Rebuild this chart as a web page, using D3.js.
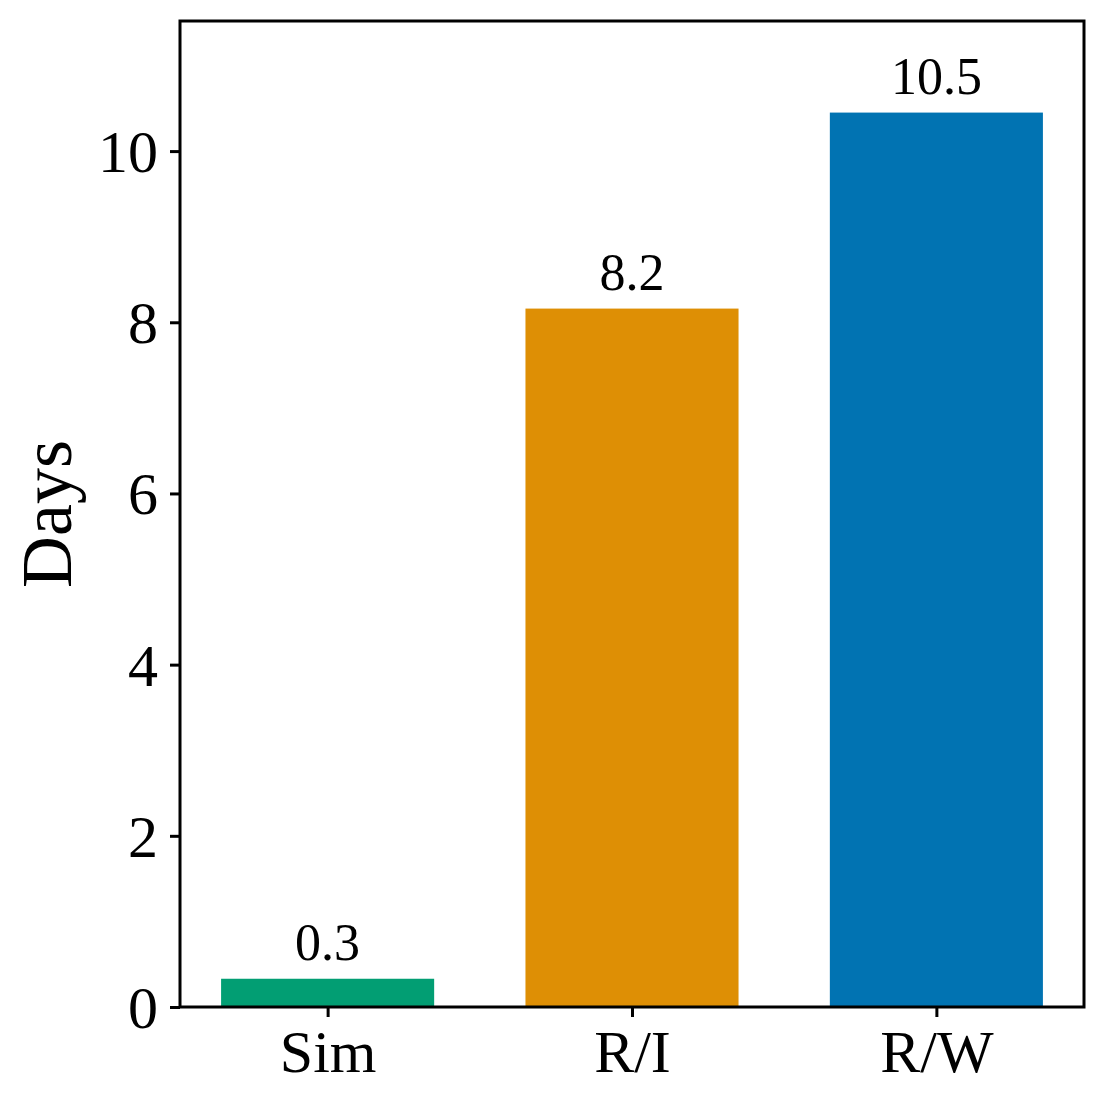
<!DOCTYPE html>
<html>
<head>
<meta charset="utf-8">
<script src="https://cdn.jsdelivr.net/npm/d3@7"></script>
<style>
  body { margin: 0; background: #fff; }
  svg text { font-family: "Times New Roman", Times, "Liberation Serif", Tinos, serif; }
</style>
</head>
<body>
<svg id="chart" width="1106" height="1106"></svg>
<script>
let categories = ["Sim", "R/I", "R/W"];
let values = [0.33, 8.16, 10.45];
let valueLabels = ["0.3", "8.2", "10.5"];
let colors = ["#029e73", "#de8f05", "#0173b2"];
let yTicks = [0, 2, 4, 6, 8, 10];

let width = 1106, height = 1106;
let margin = { left: 180, right: 22, top: 21, bottom: 99 };
let fontSize = { tick: 60, value: 52, label: 72 };

let svg = d3.select("#chart");

let plotW = width - margin.left - margin.right;
let plotH = height - margin.top - margin.bottom;

// index-based x like matplotlib: bars width 0.7, xlim with 5% margin
let barWidth = 0.7;
let scaleX = d3.scaleLinear()
    .domain([-0.485, categories.length - 1 + 0.485])
    .range([margin.left, margin.left + plotW]);
let scaleY = d3.scaleLinear()
    .domain([0, 11.52])
    .range([margin.top + plotH, margin.top]);

// bars
svg.selectAll(".bar").data(values).enter()
    .append("rect")
    .attr("class", "bar")
    .attr("x", (d, i) => scaleX(i - barWidth / 2))
    .attr("width", (d, i) => scaleX(i + barWidth / 2) - scaleX(i - barWidth / 2))
    .attr("y", d => scaleY(d))
    .attr("height", d => scaleY(0) - scaleY(d))
    .attr("fill", (d, i) => colors[i]);

// value labels
svg.selectAll(".value").data(values).enter()
    .append("text")
    .attr("class", "value")
    .attr("x", (d, i) => scaleX(i))
    .attr("y", d => scaleY(d) - 19)
    .attr("text-anchor", "middle")
    .style("font-size", fontSize.value + "px")
    .text((d, i) => valueLabels[i]);

// y axis
let yAxis = d3.axisLeft(scaleY).tickValues(yTicks).tickSize(10).tickPadding(12)
    .tickFormat(d3.format("d"));
let gy = svg.append("g")
    .attr("transform", "translate(" + margin.left + ",0)")
    .call(yAxis);
gy.attr("font-family", null);
gy.select(".domain").remove();
gy.selectAll(".tick line").attr("stroke", "#000").attr("stroke-width", 3);
gy.selectAll(".tick text")
    .attr("dy", "0.34em")
    .attr("fill", "#000")
    .style("font-size", fontSize.tick + "px");

// x axis
let xAxis = d3.axisBottom(scaleX).tickValues(categories.map((c, i) => i)).tickSize(10).tickPadding(12)
    .tickFormat(i => categories[i]);
let gx = svg.append("g")
    .attr("transform", "translate(0," + (margin.top + plotH) + ")")
    .call(xAxis);
gx.attr("font-family", null);
gx.select(".domain").remove();
gx.selectAll(".tick line").attr("stroke", "#000").attr("stroke-width", 3);
gx.selectAll(".tick text")
    .attr("dy", "0.71em")
    .attr("fill", "#000")
    .style("font-size", fontSize.tick + "px");

// frame
svg.append("rect")
    .attr("x", margin.left)
    .attr("y", margin.top)
    .attr("width", plotW)
    .attr("height", plotH)
    .attr("fill", "none")
    .attr("stroke", "#000")
    .attr("stroke-width", 3);

// y label
svg.append("text")
    .attr("transform", "translate(71," + (margin.top + plotH / 2) + ") rotate(-90)")
    .attr("text-anchor", "middle")
    .style("font-size", fontSize.label + "px")
    .text("Days");
</script>
</body>
</html>
